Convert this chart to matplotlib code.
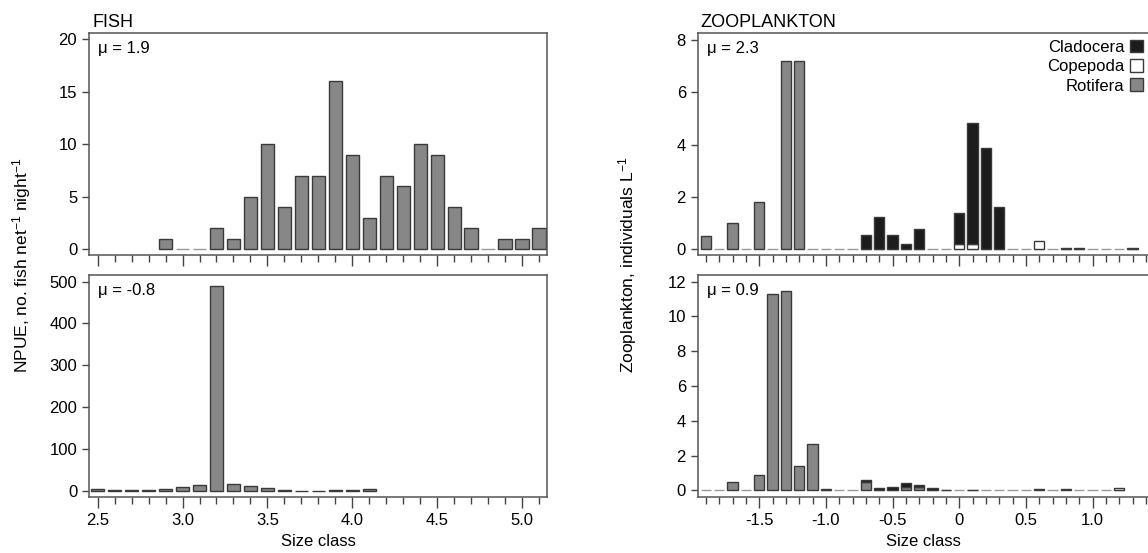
import numpy as np
import matplotlib
matplotlib.use('Agg')
import matplotlib.pyplot as plt
from matplotlib.patches import Patch

plt.rcParams['font.family'] = ['Liberation Sans', 'DejaVu Sans']
plt.rcParams['mathtext.default'] = 'regular'

# ---- data ---------------------------------------------------------------
fish_classes = [2.5, 2.6, 2.7, 2.8, 2.9, 3.0, 3.1, 3.2, 3.3, 3.4, 3.5, 3.6, 3.7, 3.8,
                3.9, 4.0, 4.1, 4.2, 4.3, 4.4, 4.5, 4.6, 4.7, 4.8, 4.9, 5.0, 5.1]
fish_top = [np.nan, np.nan, np.nan, np.nan, 1, 0, 0, 2, 1, 5, 10, 4, 7, 7,
            16, 9, 3, 7, 6, 10, 9, 4, 2, 0, 1, 1, 2]
fish_bottom = [3, 2, 1, 2, 3, 10, 14, 490, 15, 11, 7, 1, 0.5, 0.5,
               1, 1.5, 3, np.nan, np.nan, np.nan, np.nan, np.nan, np.nan, np.nan,
               np.nan, np.nan, np.nan]
fish_mu = ['μ = 1.9', 'μ = -0.8']

zoo_classes = [-1.9, -1.8, -1.7, -1.6, -1.5, -1.4, -1.3, -1.2, -1.1, -1.0, -0.9,
               -0.8, -0.7, -0.6, -0.5, -0.4, -0.3, -0.2, -0.1, 0.0, 0.1, 0.2,
               0.3, 0.4, 0.5, 0.6, 0.7, 0.8, 0.9, 1.0, 1.1, 1.2, 1.3]
# upper panel
roti_top = [0.5, 0, 1.0, 0, 1.81, 0, 7.2, 7.2, 0, 0, 0,
            0, 0, 0, 0, 0, 0, 0, 0, 0, 0, 0,
            0, 0, 0, 0, 0, 0, 0, 0, 0, 0, 0]
cope_top = [0, 0, 0, 0, 0, 0, 0, 0, 0, 0, 0,
            0, 0, 0, 0, 0, 0, 0, 0, 0.19, 0.19, 0,
            0, 0, 0, 0.32, 0, 0, 0, 0, 0, 0, 0]
clad_top = [0, 0, 0, 0, 0, 0, 0, 0, 0, 0, 0,
            0, 0.54, 1.24, 0.54, 0.19, 0.78, 0, 0, 1.20, 4.62, 3.86,
            1.62, 0, 0, 0, 0, 0.05, 0.05, 0, 0, 0, 0.04]
# lower panel (no class 1.3)
roti_bot = [0, 0, 0.5, 0, 0.9, 11.27, 11.46, 1.42, 2.68, 0, 0,
            0, 0.46, 0, 0, 0.22, 0.2, 0, 0, 0, 0, 0,
            0, 0, 0, 0.07, 0, 0.07, 0, 0, 0, 0, np.nan]
cope_bot = [0, 0, 0, 0, 0, 0, 0, 0, 0, 0.1, 0,
            0, 0, 0, 0, 0, 0, 0, 0, 0, 0, 0,
            0, 0, 0, 0, 0, 0, 0, 0, 0, 0.12, np.nan]
clad_bot = [0, 0, 0, 0, 0, 0, 0, 0, 0, 0, 0,
            0, 0.15, 0.13, 0.19, 0.22, 0.11, 0.12, 0.03, 0, 0.03, 0,
            0, 0, 0, 0, 0, 0, 0, 0, 0, 0, np.nan]
zoo_mu = ['μ = 2.3', 'μ = 0.9']

groups = ['Cladocera', 'Copepoda', 'Rotifera']
colors = {'Cladocera': '#1c1c1c', 'Copepoda': '#ffffff', 'Rotifera': '#878787'}

EDGE = '#3a3a3a'
ZERO = '#9a9a9a'
W, H = 1148, 553


def pos(l, t, r, b):
    return [l / W, 1 - b / H, (r - l) / W, (b - t) / H]


def style(ax, xmaj, xmin, xlabels, ymaj):
    for s in ax.spines.values():
        s.set_color('#555555')
        s.set_linewidth(1.1)
    ax.set_xticks(xmaj)
    ax.set_xticks(xmin, minor=True)
    ax.set_yticks(ymaj)
    ax.tick_params(axis='both', which='both', direction='out', color='#444444',
                   labelsize=12, width=1)
    ax.tick_params(axis='x', which='major', length=8)
    ax.tick_params(axis='x', which='minor', length=5)
    ax.tick_params(axis='y', length=5)
    if xlabels is None:
        ax.set_xticklabels([])
    else:
        ax.set_xticklabels(xlabels)


def bars(ax, x, h, color, bottom=None):
    h = np.asarray(h, dtype=float)
    ec = [ZERO if v == 0 else EDGE for v in np.nan_to_num(h, nan=1)]
    ax.bar(x, h, width=0.078, bottom=bottom, color=color, edgecolor=ec,
           linewidth=1.0)


fig = plt.figure(figsize=(W / 100, H / 100), dpi=100)

ax1 = fig.add_axes(pos(89, 33, 547, 255))
ax2 = fig.add_axes(pos(89, 275, 547, 497))
ax3 = fig.add_axes(pos(697.7, 33, 1149.5, 255))
ax4 = fig.add_axes(pos(697.7, 275, 1149.5, 497))

fish_maj = [2.5, 3.0, 3.5, 4.0, 4.5, 5.0]
fish_min = fish_classes
for ax, vals, mu in [(ax1, fish_top, fish_mu[0]), (ax2, fish_bottom, fish_mu[1])]:
    bars(ax, fish_classes, vals, colors['Rotifera'])
    ax.set_xlim(2.449, 5.147)
    ax.text(0.02, 0.965, mu, transform=ax.transAxes, ha='left', va='top', fontsize=12)
style(ax1, fish_maj, fish_min, None, [0, 5, 10, 15, 20])
ax1.set_ylim(-0.57, 20.6)
style(ax2, fish_maj, fish_min, ['2.5', '3.0', '3.5', '4.0', '4.5', '5.0'],
      [0, 100, 200, 300, 400, 500])
ax2.set_ylim(-15, 516)
ax2.set_xlabel('Size class', fontsize=12, labelpad=4)

zoo_maj = [-1.5, -1.0, -0.5, 0, 0.5, 1.0]
zoo_min = zoo_classes + [1.4]
zoo_lab = ['-1.5', '-1.0', '-0.5', '0', '0.5', '1.0']
for ax, r, c, d, mu in [(ax3, roti_top, cope_top, clad_top, zoo_mu[0]),
                        (ax4, roti_bot, cope_bot, clad_bot, zoo_mu[1])]:
    r = np.asarray(r, dtype=float)
    c = np.asarray(c, dtype=float)
    d = np.asarray(d, dtype=float)
    bars(ax, zoo_classes, r, colors['Rotifera'])
    c_draw = np.where(c > 0, c, np.nan)
    d_draw = np.where(d > 0, d, np.nan)
    bars(ax, zoo_classes, c_draw, colors['Copepoda'], bottom=np.nan_to_num(r))
    bars(ax, zoo_classes, d_draw, colors['Cladocera'],
         bottom=np.nan_to_num(r) + np.nan_to_num(c))
    ax.set_xlim(-1.962, 1.427)
    ax.text(0.02, 0.965, mu, transform=ax.transAxes, ha='left', va='top', fontsize=12)
style(ax3, zoo_maj, zoo_min, None, [0, 2, 4, 6, 8])
ax3.set_ylim(-0.23, 8.27)
style(ax4, zoo_maj, zoo_min, zoo_lab, [0, 2, 4, 6, 8, 10, 12])
ax4.set_ylim(-0.38, 12.38)
ax4.set_xlabel('Size class', fontsize=12, labelpad=4)

handles = [Patch(facecolor=colors[g], edgecolor=EDGE, linewidth=1.0) for g in groups]
ax3.legend(handles, groups, loc='upper right', bbox_to_anchor=(1.0, 1.0),
           frameon=False, markerfirst=False, fontsize=12, handlelength=0.8,
           handleheight=0.8, handletextpad=0.3, labelspacing=0.25,
           borderaxespad=0.2, borderpad=0.2)

fig.text(93 / W, 1 - 27 / H, 'FISH', fontsize=13, ha='left', va='baseline')
fig.text(700 / W, 1 - 27 / H, 'ZOOPLANKTON', fontsize=13, ha='left', va='baseline')

fig.text(22 / W, 1 - 265 / H, 'NPUE, no. fish net$^{-1}$ night$^{-1}$', fontsize=12.5,
         rotation=90, ha='center', va='center')
fig.text(628 / W, 1 - 265 / H, 'Zooplankton, individuals L$^{-1}$', fontsize=12.5,
         rotation=90, ha='center', va='center')

fig.savefig('out.png', dpi=100)
